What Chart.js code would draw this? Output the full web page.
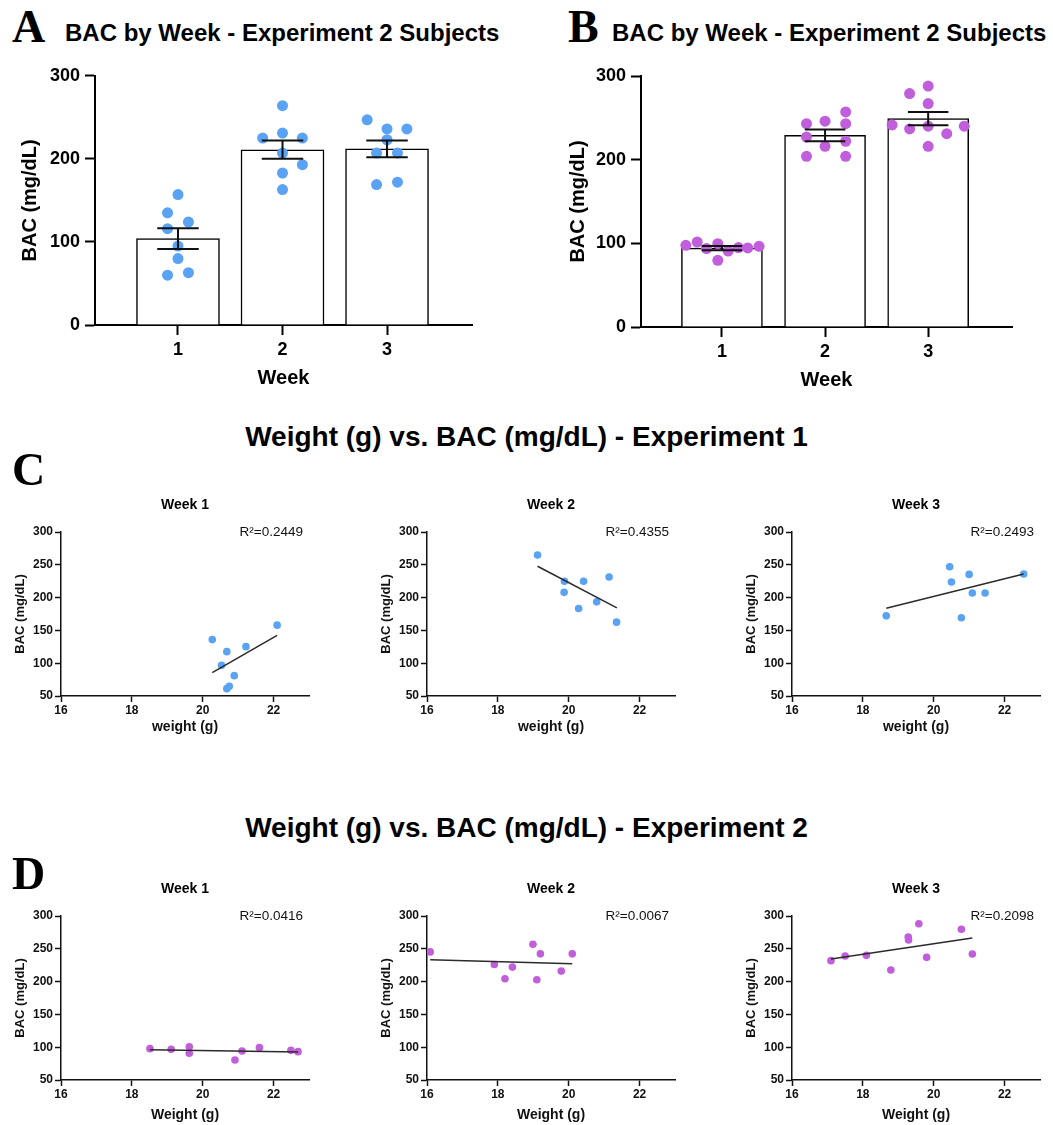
<!DOCTYPE html>
<html>
<head>
<meta charset="utf-8">
<script src="https://cdn.jsdelivr.net/npm/chart.js@4.4.0/dist/chart.umd.min.js"></script>
<style>
  body { margin: 0; background: #fff; }
  #fig { position: relative; width: 1053px; height: 1125px; overflow: hidden; background: #fff;
         font-family: 'Liberation Sans', Arial, sans-serif; color: #000; }
  #fig canvas { position: absolute; }
  .letter { position: absolute; font-family: 'Liberation Serif', 'Times New Roman', serif;
            font-weight: bold; font-size: 46px; line-height: 1; }
  .ptitle { position: absolute; font-weight: bold; font-size: 24px; line-height: 1; white-space: nowrap; }
  .head { position: absolute; left: 0; width: 1053px; text-align: center; font-weight: bold;
          font-size: 28px; line-height: 1; white-space: nowrap; }
</style>
</head>
<body>
<div id="fig">
  <div class="ptitle" style="left:65px; top:21px;">BAC by Week - Experiment 2 Subjects</div>
  <div class="ptitle" style="left:612px; top:21px;">BAC by Week - Experiment 2 Subjects</div>
  <div class="head" style="top:423px;">Weight (g) vs. BAC (mg/dL) - Experiment 1</div>
  <div class="head" style="top:814px;">Weight (g) vs. BAC (mg/dL) - Experiment 2</div>
</div>
<script>
// ---- data: bar panels (A = blue, B = purple) ----
const weeks = ['1', '2', '3'];
const barTicks = [0, 100, 200, 300];

const aMeans = [104, 211, 212];
const aSem   = [12.5, 11, 10];
const aWeek1 = [157, 135, 124, 116, 95, 80, 63, 60];
const aWeek2 = [264, 231, 225, 225, 207, 193, 183, 163];
const aWeek3 = [247, 236, 236, 223, 207, 207, 172, 169];
// horizontal spread of the dots (in week units)
const aJit1 = [0, -0.1, 0.1, -0.1, 0, 0, 0.1, -0.1];
const aJit2 = [0, 0, -0.19, 0.19, 0, 0.19, 0, 0];
const aJit3 = [-0.19, 0, 0.19, 0, -0.1, 0.1, 0.1, -0.1];

const bMeans = [94.3, 229, 249];
const bSem   = [2.5, 7, 8];
const bWeek1 = [97.6, 101.6, 93.7, 99.6, 79.7, 90.8, 94.9, 94.5, 96.4];
const bWeek2 = [243, 246, 257, 243, 227, 216, 222, 204, 204];
const bWeek3 = [288, 279, 267, 241.5, 240, 240, 236.7, 231, 216];
const bJit1 = [-0.35, -0.24, -0.15, -0.04, -0.04, 0.06, 0.16, 0.25, 0.36];
const bJit2 = [-0.18, 0, 0.2, 0.2, -0.18, 0, 0.2, -0.18, 0.2];
const bJit3 = [0, -0.18, 0, -0.35, 0, 0.35, -0.18, 0.18, 0];

// ---- data: weight vs BAC (C = experiment 1, D = experiment 2) ----
const weightTicks = [16, 18, 20, 22];
const bacTicks = [50, 100, 150, 200, 250, 300];

const c1w = [20.27, 22.1, 20.68, 21.22, 20.53, 20.89, 20.75, 20.68];
const c1b = [136, 158, 117.6, 125.2, 96.7, 81, 64.7, 61.2];
const c1fitW = [20.27, 22.1], c1fitB = [85.6, 142.5];
const c2w = [19.12, 19.88, 19.87, 20.42, 21.14, 20.28, 20.79, 21.35];
const c2b = [265, 225, 208, 225, 231.5, 183.4, 193.5, 162.6];
const c2fitW = [19.12, 21.36], c2fitB = [247.8, 184.4];
const c3w = [18.66, 20.45, 20.5, 21.0, 21.09, 21.45, 20.78, 22.54];
const c3b = [172.2, 247, 223.7, 235.4, 207, 207, 169.2, 235.9];
const c3fitW = [18.66, 22.54], c3fitB = [183.8, 236];
const cR2 = ['0.2449', '0.4355', '0.2493'];

const d1w = [18.51, 19.11, 19.62, 19.62, 20.91, 21.11, 21.6, 22.49, 22.69];
const d1b = [97.8, 96.7, 100.8, 90.7, 80.5, 94.2, 99.3, 95.2, 93.2];
const d1fitW = [18.51, 22.69], d1fitB = [96.2, 92.7];
const d2w = [16.09, 17.9, 18.2, 18.41, 18.99, 19.1, 19.2, 19.79, 20.1];
const d2b = [245.3, 226, 204.4, 222.1, 257, 202.8, 242.3, 216, 242.3];
const d2fitW = [16.09, 20.1], d2fitB = [233.2, 227.1];
const d3w = [17.1, 17.5, 18.1, 18.79, 19.28, 19.29, 19.58, 19.8, 20.78, 21.09];
const d3b = [231.9, 239, 240, 217.7, 268, 263.4, 288.3, 237, 279.7, 242];
const d3fitW = [17.1, 21.09], d3fitB = [234.4, 266.5];
const dR2 = ['0.0416', '0.0067', '0.2098'];

const BLUE = '#5aa2f4';
const PURPLE = '#c05edb';
const INK = '#000';

Chart.defaults.font.family = "'Liberation Sans', Arial, Helvetica, sans-serif";
Chart.defaults.color = INK;
Chart.defaults.animation = false;
Chart.defaults.plugins.legend.display = false;
Chart.defaults.plugins.tooltip.enabled = false;

const fig = document.getElementById('fig');

function mkCanvas(x, y, w, h) {
  const c = document.createElement('canvas');
  c.width = w; c.height = h;
  c.style.left = x + 'px'; c.style.top = y + 'px';
  c.style.width = w + 'px'; c.style.height = h + 'px';
  fig.appendChild(c);
  return c;
}

function addText(cls, txt, x, y) {
  const d = document.createElement('div');
  d.className = cls; d.textContent = txt;
  d.style.left = x + 'px'; d.style.top = y + 'px';
  fig.appendChild(d);
}

// mean +/- SEM, drawn through the chart scales
const errorBars = {
  id: 'errorBars',
  afterDatasetsDraw(chart, args, opts) {
    const { ctx, scales: { x, y } } = chart;
    ctx.save();
    ctx.strokeStyle = '#111';
    ctx.lineWidth = 2;
    opts.means.forEach((m, i) => {
      const px = x.getPixelForValue(i);
      const hi = y.getPixelForValue(m + opts.sem[i]);
      const lo = y.getPixelForValue(m - opts.sem[i]);
      ctx.beginPath();
      ctx.moveTo(px, hi); ctx.lineTo(px, lo);
      ctx.moveTo(px - opts.cap, hi); ctx.lineTo(px + opts.cap, hi);
      ctx.moveTo(px - opts.cap, lo); ctx.lineTo(px + opts.cap, lo);
      ctx.stroke();
    });
    ctx.restore();
  }
};

// R² label at the top right corner of the plot
const r2Label = {
  id: 'r2Label',
  afterDraw(chart, args, opts) {
    const { ctx, chartArea } = chart;
    ctx.save();
    ctx.font = "13.5px 'Liberation Sans', Arial, sans-serif";
    ctx.fillStyle = '#111';
    ctx.textAlign = 'right';
    ctx.textBaseline = 'middle';
    ctx.fillText('R\u00B2=' + opts.value, chartArea.right - 6, chartArea.top);
    ctx.restore();
  }
};

// g: canvas box (cx,cy,cw,ch) and plot box (pl,pt,pr,pb) in page pixels
function barPanel(g, means, sem, groups, jitters, color) {
  const canvas = mkCanvas(g.cx, g.cy, g.cw, g.ch);
  const dots = [];
  groups.forEach((vals, i) => vals.forEach((v, k) => dots.push({ x: i + jitters[i][k], y: v })));
  const yW = g.pl - g.cx;
  const xH = g.cy + g.ch - g.pb;

  new Chart(canvas, {
    type: 'bar',
    data: {
      datasets: [
        { type: 'scatter', data: dots, backgroundColor: color, borderWidth: 0,
          pointRadius: 5.5, order: 0 },
        { type: 'bar', data: means.map((m, i) => ({ x: i, y: m })),
          backgroundColor: '#fff', borderColor: INK, borderWidth: 1.5,
          barThickness: g.barW, order: 1 }
      ]
    },
    options: {
      responsive: false,
      layout: { padding: { left: 0, top: g.pt - g.cy, right: g.cx + g.cw - g.pr, bottom: 0 } },
      plugins: { errorBars: { means, sem, cap: g.barW / 4 } },
      scales: {
        x: {
          type: 'linear', min: g.xMin, max: g.xMax, offset: false,
          afterFit: s => { s.height = xH; },
          afterBuildTicks: s => { s.ticks = weeks.map((_, i) => ({ value: i })); },
          ticks: { callback: v => weeks[v], font: { size: 18, weight: 'bold' }, color: INK,
                   padding: 4, maxRotation: 0, autoSkip: false },
          grid: { offset: false, drawOnChartArea: false, tickLength: 10, tickWidth: 2, color: INK },
          border: { color: INK, width: 2 },
          title: { display: true, text: 'Week', font: { size: 20, weight: 'bold' }, color: INK,
                   padding: { top: 0, bottom: g.xTitlePad } }
        },
        y: {
          type: 'linear', min: 0, max: 300,
          afterFit: s => { s.width = yW; },
          afterBuildTicks: s => { s.ticks = barTicks.map(v => ({ value: v })); },
          ticks: { font: { size: 18, weight: 'bold' }, color: INK, padding: 5 },
          grid: { drawOnChartArea: false, tickLength: 10, tickWidth: 2, color: INK },
          border: { color: INK, width: 2 },
          title: { display: true, text: 'BAC (mg/dL)', font: { size: 20, weight: 'bold' }, color: INK,
                   padding: { top: g.yTitlePad, bottom: 0 } }
        }
      }
    },
    plugins: [errorBars]
  });
}

function scatterPanel(g, ws, bs, fitW, fitB, r2, color, title, xTitle) {
  const canvas = mkCanvas(g.cx, g.cy, g.cw, g.ch);
  const lh = 14 * 1.2;
  const padTop = g.titleY - g.cy - lh / 2;
  const titleGap = g.pt - g.cy - padTop - lh;
  const xH = g.cy + g.ch - g.pb;

  new Chart(canvas, {
    type: 'scatter',
    data: {
      datasets: [
        { type: 'line', data: fitW.map((w, i) => ({ x: w, y: fitB[i] })),
          borderColor: '#2b2b2b', borderWidth: 1.5, pointRadius: 0, order: 0 },
        { type: 'scatter', data: ws.map((w, i) => ({ x: w, y: bs[i] })),
          backgroundColor: color, borderWidth: 0, pointRadius: 3.8, order: 1 }
      ]
    },
    options: {
      responsive: false,
      layout: { padding: { left: 0, top: padTop, right: g.cx + g.cw - g.pr, bottom: 0 } },
      plugins: {
        title: { display: true, text: title, fullSize: false, color: INK,
                 font: { size: 14, weight: 'bold' }, padding: { top: 0, bottom: titleGap } },
        r2Label: { value: r2 }
      },
      scales: {
        x: {
          type: 'linear', min: 16, max: 23,
          afterFit: s => { s.height = xH; },
          afterBuildTicks: s => { s.ticks = weightTicks.map(v => ({ value: v })); },
          ticks: { font: { size: 12, weight: 'bold' }, color: '#111', padding: 1, maxRotation: 0 },
          grid: { drawOnChartArea: false, tickLength: 6, tickWidth: 1.5, color: '#111' },
          border: { color: '#111', width: 1.5 },
          title: { display: true, text: xTitle, font: { size: 14, weight: 'bold' }, color: '#111',
                   padding: { top: 0, bottom: g.xTitlePad } }
        },
        y: {
          type: 'linear', min: 50, max: 300,
          afterFit: s => { s.width = g.pl - g.cx; },
          afterBuildTicks: s => { s.ticks = bacTicks.map(v => ({ value: v })); },
          ticks: { font: { size: 12, weight: 'bold' }, color: '#111', padding: 2 },
          grid: { drawOnChartArea: false, tickLength: 6, tickWidth: 1.5, color: '#111' },
          border: { color: '#111', width: 1.5 },
          title: { display: true, text: 'BAC (mg/dL)', font: { size: 13, weight: 'bold' }, color: '#111',
                   padding: { top: 12, bottom: 0 } }
        }
      }
    },
    plugins: [r2Label]
  });
}

// ---- panels A and B ----
barPanel({ cx: 0, cy: 60, cw: 520, ch: 340, pl: 95, pt: 75, pr: 472, pb: 325,
           xMin: -0.794, xMax: 2.813, barW: 83, xTitlePad: 10, yTitlePad: 18 },
         aMeans, aSem, [aWeek1, aWeek2, aWeek3], [aJit1, aJit2, aJit3], BLUE);

barPanel({ cx: 545, cy: 60, cw: 508, ch: 340, pl: 641, pt: 76, pr: 1012, pb: 327,
           xMin: -0.785, xMax: 2.813, barW: 81, xTitlePad: 8, yTitlePad: 21 },
         bMeans, bSem, [bWeek1, bWeek2, bWeek3], [bJit1, bJit2, bJit3], PURPLE);

// ---- panels C and D ----
const plotLefts = [61, 427, 792];
const cSets = [[c1w, c1b, c1fitW, c1fitB], [c2w, c2b, c2fitW, c2fitB], [c3w, c3b, c3fitW, c3fitB]];
const dSets = [[d1w, d1b, d1fitW, d1fitB], [d2w, d2b, d2fitW, d2fitB], [d3w, d3b, d3fitW, d3fitB]];

cSets.forEach((s, i) => {
  const pl = plotLefts[i], pt = 532;
  scatterPanel({ cx: pl - 60, cy: pt - 42, cw: 320, ch: 251, pl, pt, pr: pl + 248, pb: pt + 164,
                 titleY: 505, xTitlePad: 5.6 },
               s[0], s[1], s[2], s[3], cR2[i], BLUE, 'Week ' + weeks[i], 'weight (g)');
});

dSets.forEach((s, i) => {
  const pl = plotLefts[i], pt = 916;
  scatterPanel({ cx: pl - 60, cy: pt - 42, cw: 320, ch: 251, pl, pt, pr: pl + 248, pb: pt + 164,
                 titleY: 889, xTitlePad: 1.6 },
               s[0], s[1], s[2], s[3], dR2[i], PURPLE, 'Week ' + weeks[i], 'Weight (g)');
});

// panel letters on top
addText('letter', 'A', 12, 4);
addText('letter', 'B', 568, 4);
addText('letter', 'C', 12, 447);
addText('letter', 'D', 12, 851);
</script>
</body>
</html>
